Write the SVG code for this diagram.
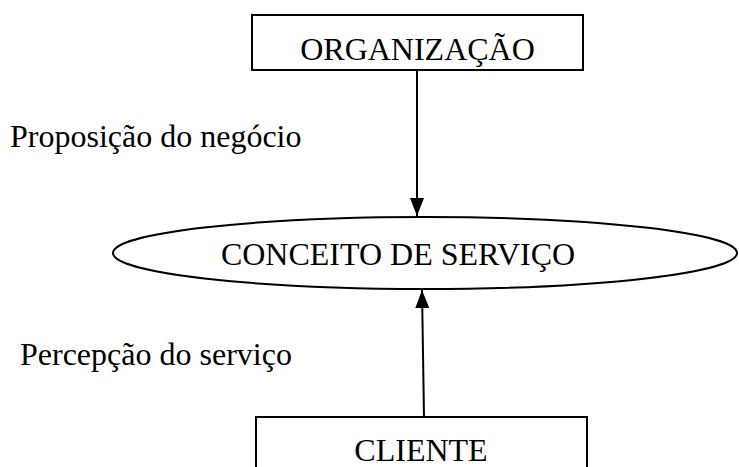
<svg xmlns="http://www.w3.org/2000/svg" width="739" height="467" viewBox="0 0 739 467">
<style>
  .shape { fill: #ffffff; stroke: #000000; stroke-width: 2; }
  .conn { stroke: #000000; stroke-width: 2; fill: none; }
  text { font-family: "Liberation Serif", "Times New Roman", serif; font-size: 32px; fill: #000000; }
</style>
<defs>
  <marker id="arrow" markerWidth="18" markerHeight="14" refX="18" refY="7" viewBox="0 0 18 14" orient="auto" markerUnits="userSpaceOnUse">
    <path d="M0,0 L18,7 L0,14 Z" fill="#000000"/>
  </marker>
</defs>
<rect width="739" height="467" fill="#ffffff"/>
<g id="connectors">
  <line class="conn" x1="417" y1="70" x2="417" y2="216" marker-end="url(#arrow)"/>
  <line class="conn" x1="424" y1="417" x2="422" y2="290" marker-end="url(#arrow)"/>
</g>
<g id="organizacao">
  <rect class="shape" x="252" y="15" width="331" height="55"/>
  <text x="417.5" y="60" text-anchor="middle">ORGANIZAÇÃO</text>
</g>
<g id="conceito">
  <ellipse class="shape" cx="425" cy="253" rx="312" ry="36"/>
  <text x="398" y="265" text-anchor="middle">CONCEITO DE SERVIÇO</text>
</g>
<g id="cliente">
  <rect class="shape" x="256" y="417" width="331" height="70"/>
  <text x="421" y="461" text-anchor="middle">CLIENTE</text>
</g>
<g id="label-proposicao">
  <text x="10" y="147">Proposição do negócio</text>
</g>
<g id="label-percepcao">
  <text x="20" y="365">Percepção do serviço</text>
</g>
</svg>
